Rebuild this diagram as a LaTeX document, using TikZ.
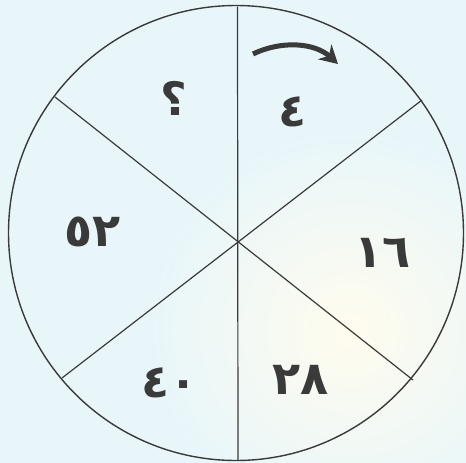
\documentclass[tikz,border=0pt]{standalone}
\usepackage{fontspec}
\newfontfamily\arabicfont[Script=Arabic]{DejaVu Sans}
\usetikzlibrary{arrows.meta}
\definecolor{bgblue}{HTML}{E8F6FA}
\definecolor{cream}{HTML}{FFFCEE}
\definecolor{ink}{HTML}{3A3A3A}
\tikzset{
  wheel/.style={draw=ink, line width=1.4pt},
  spoke/.style={draw=ink, line width=1.2pt},
  num/.style={font=\arabicfont\bfseries\fontsize{46}{46}\selectfont, text=ink, inner sep=0pt},
  turn/.style={draw=ink, line width=5pt, -{Stealth[length=18pt,width=20pt]}}
}
\begin{document}
\begin{tikzpicture}[x=1pt,y=-1pt]
\useasboundingbox (0,0) rectangle (466,463);
\fill[bgblue] (0,0) rectangle (466,463);
\shade[inner color=cream, outer color=bgblue] (350,330) circle (200);
\coordinate (c) at (238,240);
\coordinate (top) at (237.5,6.5);
\coordinate (bot) at (238,460);
\coordinate (ur) at (422,100);
\coordinate (ul) at (55,97);
\coordinate (ll) at (62,378);
\coordinate (lr) at (413,380);
\draw[wheel] (236,233) circle (227.5);
\draw[spoke] (top) -- (bot);
\draw[spoke] (ul) -- (lr);
\draw[spoke] (ll) -- (ur);
\node[num] (n4) at (293,112) {٤};
\node[num] (nq) at (174,98) {؟};
\node[num] (n52) at (93,232) {٥٢};
\node[num] (n16) at (383,253) {١٦};
\node[num] (n28) at (301,380) {٢٨};
\node[num] (n40) at (170,383) {٤٠};
\coordinate (as) at (253,54);
\coordinate (ae) at (338,64);
\draw[turn] (as) .. controls (282,40) and (315,43) .. (ae);
\end{tikzpicture}
\end{document}
